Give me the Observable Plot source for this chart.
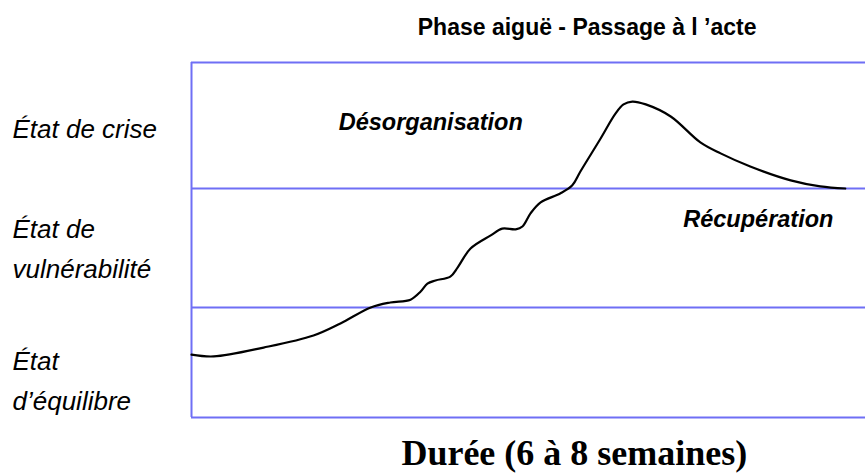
<!DOCTYPE html>
<html>
<head>
<meta charset="utf-8">
<script src="https://cdn.jsdelivr.net/npm/d3@7"></script>
<script src="https://cdn.jsdelivr.net/npm/@observablehq/plot@0.6"></script>
<style>
  html, body { margin: 0; padding: 0; background: #fff; }
  svg { display: block; }
</style>
</head>
<body>
<div id="chart"></div>
<script>
// Time (arbitrary units 0-100 across the 6–8 weeks)
const time = [0, 3.3, 10.7, 18.1, 22.1, 26.6, 29.5, 32.5, 34.0, 35.0, 36.2, 38.4, 39.5, 41.4, 44.4, 46.1, 48.1, 49.1, 50.3, 51.8, 54.7, 56.5, 57.7, 60.7, 62.9, 64.1, 65.4, 67.4, 71.1, 75.5, 78.5, 82.9, 88.9, 93.3, 97.0];
// Tension level (arbitrary units 0-100)
const level = [17.7, 17.2, 19.7, 23.1, 26.5, 31.0, 32.4, 33.2, 35.5, 37.7, 38.6, 39.7, 42.3, 47.6, 51.3, 53.2, 53.0, 53.8, 57.5, 60.6, 63.1, 65.4, 69.3, 78.6, 85.6, 88.2, 89.0, 88.2, 84.8, 77.5, 74.4, 70.7, 66.8, 65.1, 64.5];

// Band boundaries
const bounds = [0, 31.0, 64.5, 100];

// State labels (left side) and their level
const stateLabels = ["État de crise", "État de\nvulnérabilité", "État\nd’équilibre"];
const stateLevels = [82.3, 48.5, 11.3];

// Phase annotations
const phaseLabels = ["Désorganisation", "Récupération"];
const phaseTimes = [35.5, 84.1];
const phaseLevels = [83.1, 55.8];

const title = "Phase aiguë - Passage à l ’acte";
const xTitle = "Durée (6 à 8 semaines)";

const curve = time.map((t, i) => ({t, v: level[i]}));
const states = stateLabels.map((s, i) => ({s, v: stateLevels[i]}));
const phases = phaseLabels.map((s, i) => ({s, t: phaseTimes[i], v: phaseLevels[i]}));

const blue = "#6f6ff5";

const chart = Plot.plot({
  width: 865,
  height: 473,
  marginTop: 62,
  marginBottom: 56,
  marginLeft: 191,
  marginRight: 0,
  style: {fontFamily: "'Liberation Sans', Arial, sans-serif", background: "#fff"},
  x: {domain: [0, 100], axis: null},
  y: {domain: [0, 100], axis: null},
  marks: [
    Plot.ruleY(bounds, {stroke: blue, strokeWidth: 2}),
    Plot.ruleX([0], {y1: 0, y2: 100, stroke: blue, strokeWidth: 2}),
    Plot.line(curve, {x: "t", y: "v", curve: "catmull-rom", stroke: "#000", strokeWidth: 2.2}),
    Plot.text(states, {
      y: "v", text: "s", frameAnchor: "left", textAnchor: "start", lineAnchor: "middle", dx: -179,
      fontSize: 26, fontStyle: "italic", lineHeight: 1.54, fill: "#000"
    }),
    Plot.text(phases, {
      x: "t", y: "v", text: "s", fontSize: 23.5, fontStyle: "italic", fontWeight: "bold", fill: "#000"
    }),
    Plot.text([title], {
      x: [58.7], frameAnchor: "top", lineAnchor: "middle", dy: -35, text: d => d,
      fontSize: 23, fontWeight: "bold", fill: "#000"
    }),
    Plot.text([xTitle], {
      x: [56.8], frameAnchor: "bottom", lineAnchor: "middle", dy: 35.5, text: d => d, fontSize: 36, fontWeight: "bold",
      fontFamily: "'Liberation Serif', 'Times New Roman', serif", fill: "#000"
    })
  ]
});
document.getElementById("chart").appendChild(chart);
</script>
</body>
</html>
